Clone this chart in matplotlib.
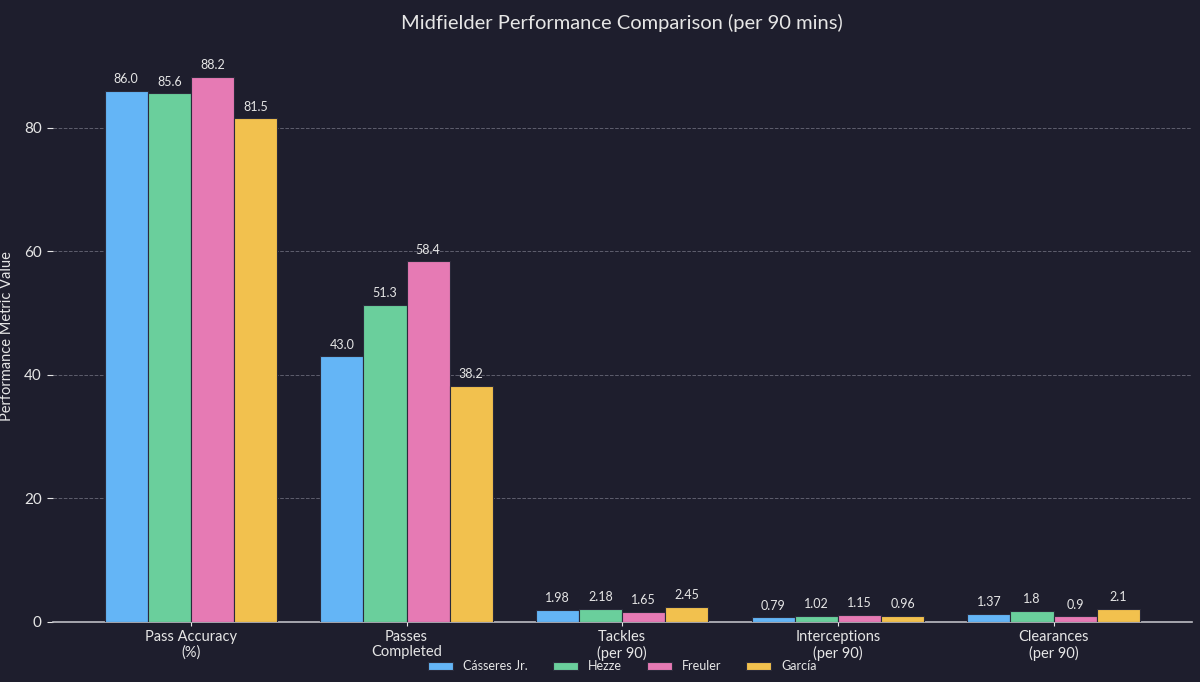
"""Midfielder comparison: grouped bars on a dark background."""
import matplotlib
matplotlib.use("Agg")
import matplotlib.pyplot as plt
import numpy as np

metrics = ["Pass Accuracy\n(%)", "Passes\nCompleted", "Tackles\n(per 90)",
           "Interceptions\n(per 90)", "Clearances\n(per 90)"]
players = ["Cásseres Jr.", "Hezze", "Freuler", "García"]
casseres = [86.0, 43.0, 1.98, 0.79, 1.37]
hezze = [85.6, 51.3, 2.18, 1.02, 1.8]
freuler = [88.2, 58.4, 1.65, 1.15, 0.9]
garcia = [81.5, 38.2, 2.45, 0.96, 2.1]
series = [casseres, hezze, freuler, garcia]

colors = ["#64B5F6", "#6ACF9C", "#E67AB4", "#F2C14E"]
BG = "#1E1E2D"
FG = "#E6E6E6"

plt.rcParams["font.family"] = ["Lato", "DejaVu Sans"]

fig = plt.figure(figsize=(12, 6.82), dpi=100, facecolor=BG)
ax = fig.add_axes([0.044, 0.088, 0.949, 0.839])
ax.set_facecolor(BG)

x = np.arange(len(metrics))
width = 0.2
for i, (name, vals, col) in enumerate(zip(players, series, colors)):
    pos = x + (i - 1.5) * width
    bars = ax.bar(pos, vals, width, label=name, color=col,
                  edgecolor="#2a2a3a", linewidth=0.8, zorder=3)
    for j, (b, v) in enumerate(zip(bars, vals)):
        txt = f"{v:.1f}" if j < 2 else f"{v:g}"
        ax.annotate(txt, (b.get_x() + b.get_width() / 2, v),
                    xytext=(0, 4), textcoords="offset points",
                    ha="center", va="bottom", fontsize=9, color=FG)

ax.set_xticks(x)
ax.set_xticklabels(metrics, fontsize=10.5, color=FG, linespacing=1.1)
ax.set_yticks([0, 20, 40, 60, 80])
ax.tick_params(axis="y", colors=FG, labelsize=11, length=4, pad=4)
ax.tick_params(axis="x", colors=FG, length=3, pad=3)
ax.set_ylabel("Performance Metric Value", color=FG, fontsize=10.5)
ax.yaxis.set_label_coords(-0.034, 0.5)
ax.set_title("Midfielder Performance Comparison (per 90 mins)",
             color=FG, fontsize=14.5, pad=15)

ax.yaxis.grid(True, linestyle="--", color="#8a8a99", alpha=0.6,
              linewidth=0.7, zorder=0)
for side in ("top", "right", "left"):
    ax.spines[side].set_visible(False)
ax.spines["bottom"].set_color("#BDBDC4")
ax.spines["bottom"].set_linewidth(1.2)

ax.legend(loc="center", bbox_to_anchor=(0.5, -0.077), ncol=4,
          frameon=False, fontsize=9, labelcolor=FG,
          handlelength=2.0, handleheight=0.6, columnspacing=2.0)

fig.savefig("out.png", dpi=100, facecolor=BG)
